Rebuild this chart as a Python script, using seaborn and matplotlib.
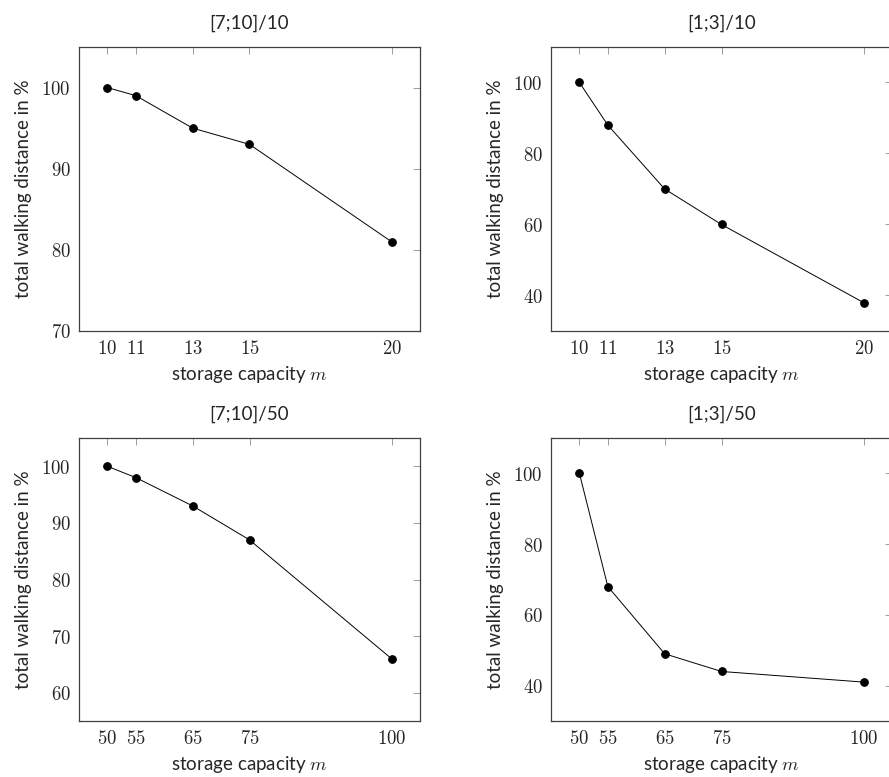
import matplotlib
matplotlib.use("Agg")
import matplotlib.pyplot as plt
import seaborn as sns
import pandas as pd

# data
titles = ["[7;10]/10", "[1;3]/10", "[7;10]/50", "[1;3]/50"]
cap_10 = [10, 11, 13, 15, 20]
cap_50 = [50, 55, 65, 75, 100]
dist_7_10_10 = [100, 99, 95, 93, 81]
dist_1_3_10 = [100, 88, 70, 60, 38]
dist_7_10_50 = [100, 98, 93, 87, 66]
dist_1_3_50 = [100, 68, 49, 44, 41]

sns.set_style("white")
plt.rcParams['font.family'] = ['Lato', 'DejaVu Sans']
plt.rcParams['mathtext.fontset'] = 'cm'

W, H = 889, 777
fig = plt.figure(figsize=(W / 100, H / 100), dpi=100)


def add_ax(left, top, right, bottom):
    return fig.add_axes([left / W, 1 - bottom / H, (right - left) / W, (bottom - top) / H])


panels = [
    (add_ax(79, 47, 420, 331), cap_10, dist_7_10_10, (9, 21), (70, 105), [70, 80, 90, 100]),
    (add_ax(551, 47, 892, 331), cap_10, dist_1_3_10, (9, 21), (30, 110), [40, 60, 80, 100]),
    (add_ax(79, 438, 420, 721), cap_50, dist_7_10_50, (45, 105), (55, 105), [60, 70, 80, 90, 100]),
    (add_ax(551, 438, 892, 721), cap_50, dist_1_3_50, (45, 105), (30, 110), [40, 60, 80, 100]),
]

for (ax, xs, ys, xl, yl, yt), title in zip(panels, titles):
    df = pd.DataFrame({'m': xs, 'dist': ys})
    sns.lineplot(data=df, x='m', y='dist', ax=ax, color='black', linewidth=0.7,
                 marker='o', markersize=5.5, markeredgecolor='black')
    ax.set_xlim(*xl)
    ax.set_ylim(*yl)
    ax.set_xticks(xs)
    ax.set_xticklabels([f'${v}$' for v in xs])
    ax.set_yticks(yt)
    ax.set_yticklabels([f'${v}$' for v in yt])
    ax.tick_params(direction='in', length=5, width=0.6, color='0.55',
                   top=True, right=True, labelsize=13.5, pad=6)
    for s in ax.spines.values():
        s.set_color('0.25')
        s.set_linewidth(0.9)
    ax.set_title(title, fontsize=13.5, pad=13)
    ax.set_xlabel('storage capacity $m$', fontsize=13.5, labelpad=5)
    ax.set_ylabel('total walking distance in %', fontsize=13.5, labelpad=7)

fig.savefig('out.png', dpi=100)
